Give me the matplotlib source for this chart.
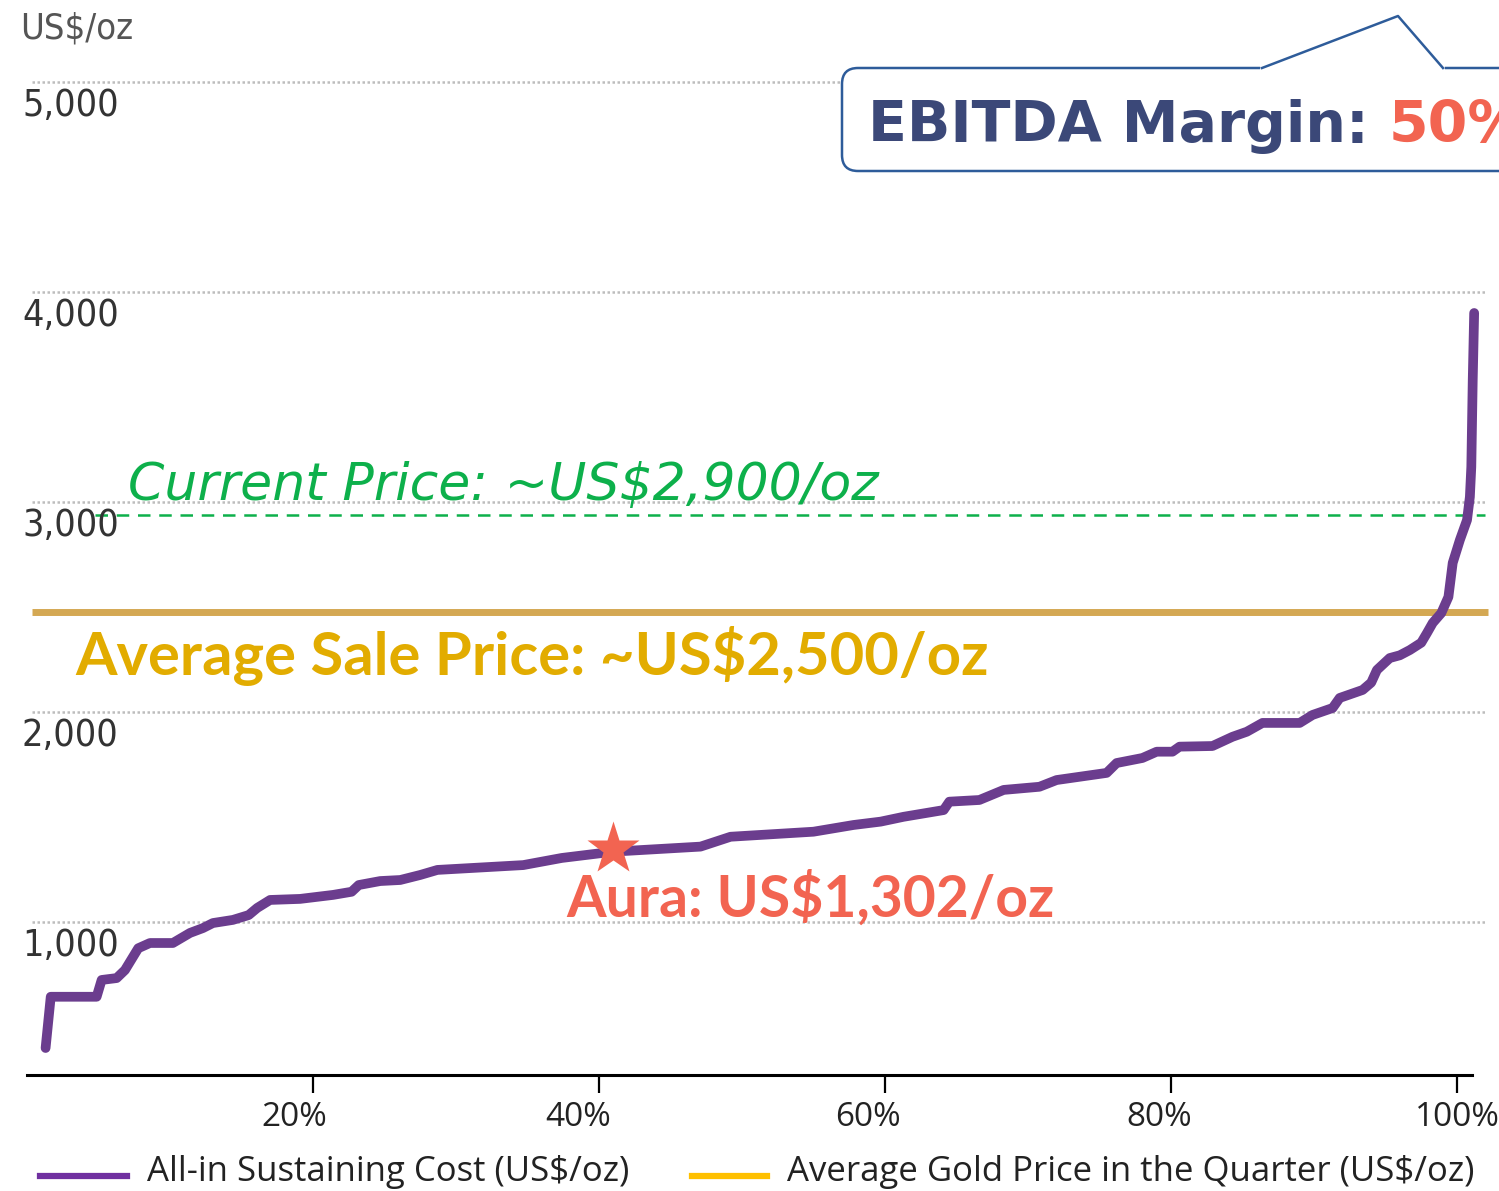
import matplotlib
matplotlib.use("Agg")
import matplotlib.pyplot as plt
from matplotlib.patches import FancyBboxPatch
from matplotlib.lines import Line2D
from matplotlib.transforms import IdentityTransform

# cost curve: cumulative production (%) vs AISC (US$/oz)
pct = [1.3, 1.66, 4.87, 5.22, 6.27, 6.85, 7.78, 8.6, 10.2, 11.4, 12.3, 13.0, 14.4, 15.5,
       16.1, 17.0, 19.1, 21.4, 22.7, 23.2, 24.7, 26.1, 27.5, 28.7, 34.7, 37.4, 41.0, 47.1,
       49.2, 55.0, 57.8, 59.7, 61.3, 64.1, 64.5, 66.6, 68.3, 70.8, 72.0, 75.5, 76.2, 78.0,
       79.0, 80.1, 80.6, 82.9, 84.3, 85.3, 86.4, 89.0, 89.9, 91.3, 91.8, 93.4, 94.0, 94.4,
       95.3, 96.0, 96.7, 97.5, 97.9, 98.3, 98.9, 99.4, 99.7, 100.2, 100.7, 100.9, 101.0,
       101.1, 101.2]
aisc = [400, 644, 644, 724, 733, 771, 875, 900, 900, 948, 971, 995, 1010, 1033,
        1067, 1105, 1110, 1129, 1144, 1176, 1195, 1200, 1224, 1248, 1271, 1305, 1335, 1359,
        1406, 1430, 1462, 1478, 1501, 1533, 1573, 1581, 1629, 1644, 1676, 1710, 1757, 1781,
        1811, 1811, 1835, 1838, 1882, 1906, 1948, 1948, 1986, 2019, 2067, 2105, 2140, 2200,
        2257, 2270, 2295, 2330, 2376, 2424, 2471, 2548, 2710, 2819, 2914, 3024, 3167,
        3581, 3900]

y_ticks = [1000, 2000, 3000, 4000, 5000]
x_ticks = [20, 40, 60, 80, 100]
x_labels = ["20%", "40%", "60%", "80%", "100%"]
label_shift = [-1.3, -1.45, -1.2, -0.8, 0.0]

avg_sale_price = 2476
current_price = 2938
aura_pct, aura_cost = 41.0, 1350

PURPLE = "#6B3D8E"
GOLD_LINE = "#D4A853"
GOLD_TEXT = "#E2AC00"
GREEN = "#0DB04B"
CORAL = "#F26451"
NAVY = "#3B4878"
BOX_BLUE = "#2E5C9A"

SANS = ["Open Sans", "DejaVu Sans"]
BOLD = ["Lato", "DejaVu Sans"]
NARROW = ["Liberation Sans Narrow", "DejaVu Sans"]

W, H = 1499, 1191
fig = plt.figure(figsize=(W / 100, H / 100), dpi=100)
ax = fig.add_axes([27 / W, 116 / H, 1472 / W, 1075 / H])
ax.set_xlim(0, 1472 / 14.3)
ax.set_ylim(1000 - 153 / 0.21, 1000 + 922 / 0.21)
for s in ax.spines.values():
    s.set_visible(False)
ax.set_yticks([])
ax.set_xticks(x_ticks)
ax.set_xticklabels([])
ax.tick_params(axis="x", direction="out", length=13, width=1.6, color="black")

# grid lines + y labels
for v in y_ticks:
    ax.plot([0.35, 102.0], [v, v], ls=(0, (1, 1)), color="#bdbdbd", lw=1.8, zorder=1)
    ax.text(-0.35, v - 115, f"{v:,}", family=NARROW, stretch="condensed", fontsize=27,
            color="#333333", ha="left", va="center", clip_on=False)
ax.text(-0.5, 5257, "US$/oz", family=NARROW, stretch="condensed", fontsize=26,
        color="#555555", ha="left", va="center", clip_on=False)

# x axis line
ax.plot([0, 101.05], [ax.get_ylim()[0]] * 2, color="black", lw=2.2, clip_on=False, zorder=3)
for x, lab, sh in zip(x_ticks, x_labels, label_shift):
    ax.text(x + sh, ax.get_ylim()[0] - 200, lab, family=SANS, fontsize=24, color="#222222",
            ha="center", va="center", clip_on=False)

# price lines
ax.plot([0.35, 102.2], [avg_sale_price] * 2, color=GOLD_LINE, lw=5, solid_capstyle="butt",
        clip_on=False, zorder=2)
ax.plot([4.76, 101.96], [current_price] * 2, color=GREEN, lw=1.8, ls=(0, (5, 3.5)),
        clip_on=False, zorder=2)

# AISC curve
ax.plot(pct, aisc, color=PURPLE, lw=7, solid_capstyle="round", solid_joinstyle="round",
        zorder=4)
ax.plot([aura_pct], [aura_cost], marker="*", ms=40, color=CORAL, mec="none", zorder=5)

ax.text(7.06, 3010, "Current Price: ~US$2,900/oz", family="DejaVu Sans", style="italic",
        fontsize=37.5, color=GREEN, ha="left", va="baseline", zorder=6)
ax.text(3.36, 2176, "Average Sale Price: ~US$2,500/oz", family=BOLD, weight="bold",
        fontsize=43, color=GOLD_TEXT, ha="left", va="baseline", zorder=6)
ax.text(37.7, 1024, "Aura: US$1,302/oz", family=BOLD, weight="bold",
        fontsize=41, color=CORAL, ha="left", va="baseline", zorder=6)

# EBITDA callout box (pixel coords, origin bottom-left)
box = FancyBboxPatch((842, H - 171), 720, 103, boxstyle="round,pad=0,rounding_size=16",
                     transform=IdentityTransform(), fc="white", ec=BOX_BLUE, lw=1.8, zorder=10)
fig.add_artist(box)
fig.add_artist(Line2D([1263, 1442], [H - 68, H - 68], transform=IdentityTransform(),
                      color="white", lw=4, zorder=11))
fig.add_artist(Line2D([1262, 1398, 1443], [H - 68, H - 16, H - 68],
                      transform=IdentityTransform(), color=BOX_BLUE, lw=1.8, zorder=11))
t1 = fig.text(868 / W, 1 - 142 / H, "EBITDA Margin: ", family="DejaVu Sans", weight="bold",
              fontsize=41, color=NAVY, ha="left", va="baseline", zorder=12)
fig.canvas.draw()
bb = t1.get_window_extent()
fig.text(bb.x1 / W, 1 - 142 / H, "50%", family="DejaVu Sans", weight="bold",
         fontsize=41, color=CORAL, ha="left", va="baseline", zorder=12)

# legend
fig.add_artist(Line2D([40, 127], [H - 1176, H - 1176], transform=IdentityTransform(),
                      color="#7030A0", lw=4.5))
fig.text(147 / W, 1 - 1172 / H, "All-in Sustaining Cost (US$/oz)", family=SANS,
         fontsize=25, color="#222222", ha="left", va="center")
fig.add_artist(Line2D([692, 767], [H - 1176, H - 1176], transform=IdentityTransform(),
                      color="#FFC000", lw=4.5))
fig.text(787 / W, 1 - 1172 / H, "Average Gold Price in the Quarter (US$/oz)", family=SANS,
         fontsize=25, color="#222222", ha="left", va="center")

fig.savefig("out.png", dpi=100)
